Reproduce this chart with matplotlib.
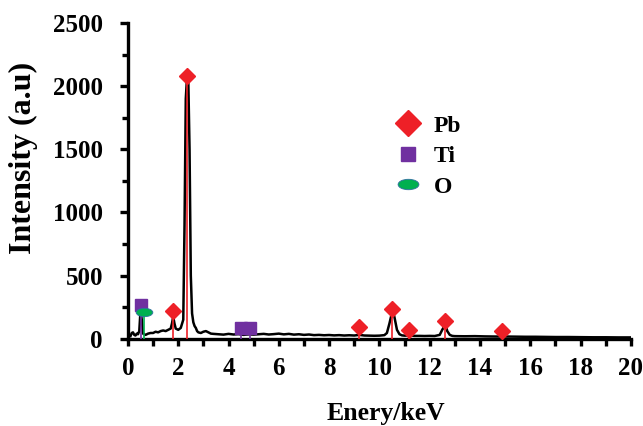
import numpy as np
import matplotlib
matplotlib.use("Agg")
import matplotlib.pyplot as plt
from matplotlib.path import Path
from matplotlib.transforms import Affine2D

plt.rcParams['font.family'] = ['Liberation Serif', 'DejaVu Serif']
plt.rcParams['font.weight'] = 'bold'

# EDS spectrum
energy = [0.1, 0.15, 0.2, 0.25, 0.3, 0.35, 0.4, 0.45, 0.5, 0.55, 0.6, 0.65, 0.7,
          0.8, 0.9, 1.0, 1.1, 1.2, 1.3, 1.4, 1.5, 1.6, 1.7, 1.75, 1.8, 1.85, 1.9,
          2.0, 2.1, 2.2, 2.25, 2.3, 2.35, 2.4, 2.45, 2.5, 2.55, 2.6, 2.65, 2.7,
          2.75, 2.8, 2.9, 3.0, 3.1, 3.2, 3.3, 3.4, 3.6, 3.8, 4.0, 4.2, 4.4, 4.6,
          4.8, 5.0, 5.2, 5.4, 5.6, 5.8, 6.0, 6.2, 6.4, 6.6, 6.8, 7.0, 7.2, 7.4,
          7.6, 7.8, 8.0, 8.2, 8.4, 8.6, 8.8, 9.0, 9.2, 9.4, 9.6, 9.8, 10.0, 10.2,
          10.3, 10.4, 10.5, 10.55, 10.6, 10.7, 10.8, 10.9, 11.0, 11.2, 11.4, 11.6,
          11.8, 12.0, 12.2, 12.4, 12.5, 12.6, 12.65, 12.7, 12.8, 12.9, 13.0, 13.4,
          13.8, 14.2, 14.6, 15.0, 15.4, 15.8, 16.2, 16.6, 17.0, 17.5, 18.0, 18.5,
          19.0, 19.5, 20.0]
intensity = [20, 45, 50, 30, 25, 40, 35, 60, 225, 150, 40, 35, 30,
             40, 45, 45, 55, 50, 60, 65, 60, 70, 80, 120, 175, 120, 80,
             70, 85, 150, 900, 1900, 2075, 2050, 1500, 500, 200, 130, 100, 85,
             60, 50, 45, 55, 60, 50, 40, 38, 35, 32, 38, 33, 36, 30,
             34, 32, 35, 38, 33, 36, 40, 34, 38, 32, 35, 30, 33, 28,
             30, 27, 29, 26, 28, 25, 27, 25, 30, 25, 24, 23, 24, 28,
             45, 120, 205, 210, 170, 70, 35, 26, 24, 25, 22, 22,
             21, 22, 21, 30, 70, 105, 100, 60, 30, 22, 20, 19,
             20, 18, 17, 17, 16, 15, 15, 14, 13, 13, 12, 11,
             11, 10, 10]

pb_e = [1.8, 2.36, 9.18, 10.5, 11.18, 12.63, 14.88]
pb_i = [220, 2082, 93, 235, 66, 142, 63]
ti_e = [0.52, 4.5, 4.86]
ti_i = [270, 88, 88]
o_e = [0.62]
o_i = [215]

red = '#ee2027'
purple = '#7030a0'
green = '#00b050'

ellipse = Path.unit_circle().transformed(Affine2D().scale(1.0, 0.5))

fig = plt.figure(figsize=(6.43, 4.26), dpi=100)
ax = fig.add_axes([0.199, 0.205, 0.782, 0.741])

ax.plot(energy, intensity, color='black', lw=1.8, zorder=3)

ax.vlines(pb_e, 0, pb_i, color=red, lw=1.2, zorder=4)
ax.vlines(ti_e, 0, ti_i, color=purple, lw=1.2, zorder=4)
ax.vlines(o_e, 0, o_i, color=green, lw=1.2, zorder=4)

ax.plot(pb_e, pb_i, 'D', color=red, ms=8, ls='none', zorder=5, label='Pb')
ax.plot(ti_e, ti_i, 's', color=purple, ms=8, ls='none', zorder=5, label='Ti')
ax.plot(o_e, o_i, marker=ellipse, color=green, mec='#2e6fa0', mew=0.6,
        ms=12, ls='none', zorder=5, label='O')

ax.set_xlim(0, 20)
ax.set_ylim(0, 2500)
ax.set_xticks(range(0, 21, 2))
ax.set_xticks(range(0, 21, 1), minor=True)
ax.set_yticks(range(0, 2501, 500))
ax.set_yticks(range(0, 2501, 250), minor=True)

for s in ['top', 'right']:
    ax.spines[s].set_visible(False)
for s in ['left', 'bottom']:
    ax.spines[s].set_linewidth(2.4)

ax.tick_params(axis='both', which='major', direction='out', width=2.4,
               labelsize=18)
ax.tick_params(axis='x', which='both', length=5, width=2.4, pad=8)
ax.tick_params(axis='y', which='major', length=6, pad=12)
ax.tick_params(axis='y', which='minor', length=4, width=2.4)
for lab in ax.get_xticklabels() + ax.get_yticklabels():
    lab.set_fontweight('bold')

ax.set_xlabel('Enery/keV', fontsize=18.5, fontweight='bold')
ax.set_ylabel('Intensity (a.u)', fontsize=23, fontweight='bold')
ax.xaxis.set_label_coords(0.513, -0.2)
ax.yaxis.set_label_coords(-0.179, 0.571)

leg = ax.legend(loc='upper left', bbox_to_anchor=(0.529, 0.708), frameon=False,
                prop={'size': 17, 'weight': 'bold'}, handlelength=1.2,
                handletextpad=0.5, labelspacing=0.38, borderpad=0,
                borderaxespad=0)
for h, ms in zip(leg.legend_handles, [13, 10, 15]):
    h.set_markersize(ms)

fig.savefig('out.png', dpi=100)
